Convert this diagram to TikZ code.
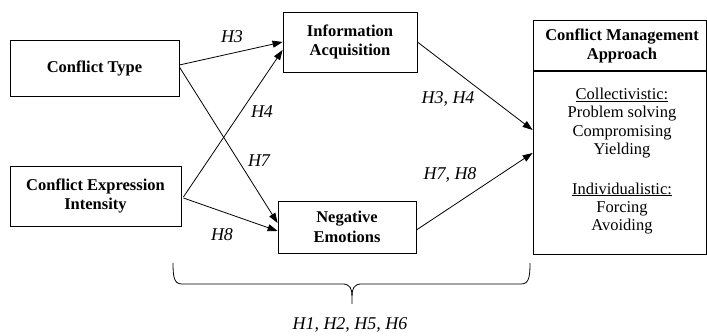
\documentclass[tikz,border=0pt]{standalone}
\usepackage{fontspec}
\setmainfont{Liberation Serif}
\usetikzlibrary{arrows.meta,calc}
\begin{document}
\begin{tikzpicture}[x=1pt,y=-1pt,
  every node/.style={font=\fontsize{16.5}{19.5}\selectfont, inner sep=0pt},
  box/.style={draw, line width=0.8pt, rectangle},
  btxt/.style={font=\fontsize{16.5}{19.5}\selectfont\bfseries, align=center},
  hyp/.style={font=\fontsize{18}{20}\selectfont\itshape},
  body/.style={font=\fontsize{16.5}{18.4}\selectfont, align=center},
  arr/.style={line width=0.8pt, -{Triangle[length=10pt,width=7pt]}}]
\useasboundingbox (0,0) rectangle (707,336);
% boxes
\node[box, minimum width=169pt, minimum height=56pt] (ct) at (94.5,68) {};
\node[btxt] (ctt) at (ct.center) {Conflict Type};
\node[box, minimum width=171pt, minimum height=60pt] (cei) at (95.5,196) {};
\node[btxt] (ceit) at (cei.center) {Conflict Expression\\Intensity};
\node[box, minimum width=134pt, minimum height=60pt] (ia) at (350,42) {};
\node[btxt] (iat) at (ia.center) {Information\\Acquisition};
\node[box, minimum width=138pt, minimum height=52pt] (ne) at (347,227) {};
\node[btxt] (net) at (ne.center) {Negative\\Emotions};
\node[box, minimum width=173pt, minimum height=234pt] (cma) at (619.5,137) {};
\coordinate (dl) at (533,71);
\coordinate (dr) at (706,71);
\draw[line width=1.4pt] (dl) -- (dr);
\node[btxt] (cmat) at (622,46) {Conflict Management\\Approach};
\node[body] (coll) at (622,123) {\underline{Collectivistic:}\\Problem solving\\Compromising\\Yielding};
\node[body] (indiv) at (622,208.5) {\underline{Individualistic:}\\Forcing\\Avoiding};
% arrows
\draw[arr] ([yshift=3pt]ct.east) -- (ia.west);
\draw[arr] ([yshift=1pt]ct.east) -- ([yshift=4pt]ne.west);
\draw[arr] ([xshift=2pt,yshift=-1pt]cei.east) -- ([yshift=-8pt]ia.west);
\draw[arr] ([xshift=2pt,yshift=-2pt]cei.east) -- ([yshift=-4pt]ne.west);
\draw[arr] (ia.east) -- ([yshift=7pt]cma.west);
\draw[arr] ([yshift=-3pt]ne.east) -- ([yshift=-16pt]cma.west);
% labels
\node[hyp] (h3) at (232,37) {H3};
\node[hyp] (h4) at (262,112) {H4};
\node[hyp] (h7) at (259,161) {H7};
\node[hyp] (h8) at (222,235) {H8};
\node[hyp] (h34) at (448,99) {H3, H4};
\node[hyp] (h78) at (450,175) {H7, H8};
% brace
\draw[line width=0.8pt] (173,263) .. controls (173,277) and (174,284) .. (182,284) -- (343,284) .. controls (350,284) and (352,289) .. (352,296) -- (352,304);
\draw[line width=0.8pt] (530,263) .. controls (530,277) and (529,284) .. (521,284) -- (361,284) .. controls (354,284) and (352,289) .. (352,296);
\node[hyp] (h1256) at (350,325) {H1, H2, H5, H6};
\end{tikzpicture}
\end{document}
